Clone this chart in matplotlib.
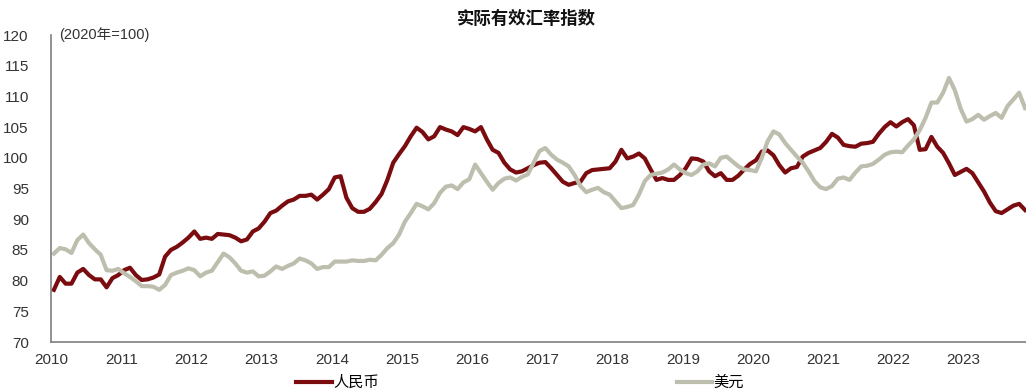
import numpy as np
import matplotlib
matplotlib.use('Agg')
import matplotlib.pyplot as plt

plt.rcParams['font.family'] = ['Liberation Sans', 'Noto Sans CJK SC']

# monthly real effective exchange rate index, 2020 = 100, Jan 2010 - Nov 2023
start_year = 2010
year_ticks = list(range(2010, 2024))
y_ticks = list(range(70, 121, 5))

rmb = [
    78.5, 80.6, 79.5, 79.5, 81.3, 81.9, 80.9, 80.2, 80.2, 78.9, 80.4, 80.9,   # 2010
    81.7, 82.1, 80.9, 80.1, 80.2, 80.5, 81.0, 83.9, 85.0, 85.5, 86.2, 87.0,   # 2011
    88.0, 86.8, 87.0, 86.8, 87.6, 87.5, 87.4, 87.0, 86.4, 86.7, 88.0, 88.5,   # 2012
    89.6, 91.0, 91.4, 92.2, 92.9, 93.2, 93.8, 93.8, 94.0, 93.2, 94.0, 94.9,   # 2013
    96.8, 97.0, 93.5, 91.8, 91.2, 91.2, 91.7, 92.8, 94.1, 96.4, 99.2, 100.6,  # 2014
    101.9, 103.5, 104.9, 104.2, 103.0, 103.5, 105.0, 104.6, 104.3, 103.7, 105.0, 104.7,  # 2015
    104.3, 105.0, 103.0, 101.3, 100.8, 99.2, 98.1, 97.6, 97.8, 98.3, 98.8, 99.2,  # 2016
    99.3, 98.3, 97.2, 96.1, 95.6, 95.9, 96.1, 97.5, 98.0, 98.1, 98.2, 98.3,   # 2017
    99.4, 101.3, 99.9, 100.2, 100.7, 99.9, 98.1, 96.4, 96.7, 96.4, 96.4, 97.2,  # 2018
    98.3, 99.9, 99.8, 99.4, 97.8, 97.0, 97.5, 96.4, 96.4, 97.1, 98.1, 99.0,   # 2019
    99.6, 101.0, 101.2, 100.4, 98.8, 97.6, 98.3, 98.5, 100.2, 100.8, 101.2, 101.6,  # 2020
    102.6, 103.9, 103.3, 102.1, 101.9, 101.8, 102.3, 102.4, 102.6, 103.9, 105.0, 105.8,  # 2021
    105.1, 105.8, 106.3, 105.3, 101.3, 101.4, 103.4, 101.8, 100.8, 99.1, 97.2, 97.7,  # 2022
    98.2, 97.5, 96.0, 94.5, 92.7, 91.3, 91.0, 91.6, 92.2, 92.5, 91.5,        # 2023
]

usd = [
    84.4, 85.3, 85.1, 84.5, 86.6, 87.5, 86.1, 85.1, 84.2, 81.7, 81.6, 81.9,   # 2010
    81.2, 80.6, 79.9, 79.1, 79.1, 79.0, 78.5, 79.3, 80.9, 81.3, 81.6, 82.0,   # 2011
    81.7, 80.7, 81.3, 81.6, 83.0, 84.4, 83.8, 82.8, 81.6, 81.3, 81.5, 80.7,   # 2012
    80.8, 81.5, 82.3, 81.9, 82.4, 82.8, 83.6, 83.3, 82.8, 81.9, 82.2, 82.2,   # 2013
    83.1, 83.1, 83.1, 83.3, 83.2, 83.2, 83.4, 83.3, 84.2, 85.3, 86.1, 87.5,   # 2014
    89.6, 91.0, 92.5, 92.1, 91.6, 92.6, 94.3, 95.3, 95.5, 94.9, 96.0, 96.5,   # 2015
    98.9, 97.5, 96.1, 94.8, 95.9, 96.6, 96.8, 96.3, 96.9, 97.3, 99.2, 101.1,  # 2016
    101.6, 100.5, 99.7, 99.2, 98.6, 97.2, 95.4, 94.4, 94.8, 95.1, 94.4, 94.0,  # 2017
    92.9, 91.8, 92.0, 92.3, 94.0, 96.2, 97.2, 97.4, 97.6, 98.1, 98.9, 98.1,   # 2018
    97.5, 97.2, 97.8, 98.9, 99.1, 98.6, 100.0, 100.2, 99.4, 98.6, 98.1, 98.0,  # 2019
    97.8, 100.0, 102.7, 104.3, 103.8, 102.4, 101.3, 100.2, 99.2, 97.8, 96.2, 95.2,  # 2020
    94.9, 95.4, 96.6, 96.8, 96.4, 97.6, 98.6, 98.7, 99.0, 99.7, 100.5, 100.9,  # 2021
    101.0, 100.9, 102.0, 103.0, 104.5, 106.5, 109.0, 109.0, 110.6, 113.0, 111.0, 108.0,  # 2022
    105.9, 106.3, 107.0, 106.2, 106.8, 107.3, 106.5, 108.4, 109.5, 110.6, 108.1,  # 2023
]

red = '#7A0C10'
grey = '#BEBEAE'

fig = plt.figure(figsize=(10.26, 3.91), dpi=100)
ax = fig.add_axes([51 / 1026, 49 / 391, 975 / 1026, 307 / 391])

x = start_year + (np.arange(len(rmb)) + 0.5) / 12
ax.plot(x, rmb, color=red, lw=3, label='人民币', solid_joinstyle='round')
ax.plot(x, usd, color=grey, lw=3, label='美元', solid_joinstyle='round')

ax.set_xlim(2010, 2010 + 975 / 70.2)
ax.set_ylim(70, 120)
ax.set_xticks(year_ticks)
ax.set_xticklabels([str(y) for y in year_ticks])
ax.set_yticks(y_ticks)
ax.tick_params(axis='both', length=0, labelsize=11, colors='#333333')
ax.tick_params(axis='y', pad=16)
ax.tick_params(axis='x', pad=8)

for s in ['top', 'right']:
    ax.spines[s].set_visible(False)
for s in ['left', 'bottom']:
    ax.spines[s].set_color('#7f7f7f')
    ax.spines[s].set_linewidth(1.2)

ax.text(0.008, 1.0, '(2020年=100)', transform=ax.transAxes, fontsize=10.5,
        color='#333333', va='center', ha='left')

fig.text(0.513, 0.952, '实际有效汇率指数', fontsize=12.5, fontweight='bold',
         family=['Noto Sans CJK SC'], ha='center', va='center', color='#111111')

fig.legend(loc='center', bbox_to_anchor=(0.507, 0.022), ncol=2, frameon=False,
           fontsize=11, handlelength=2.3, handletextpad=0.1, columnspacing=19.5,
           prop={'family': 'Noto Sans CJK SC', 'size': 11})

fig.savefig('out.png', dpi=100)
